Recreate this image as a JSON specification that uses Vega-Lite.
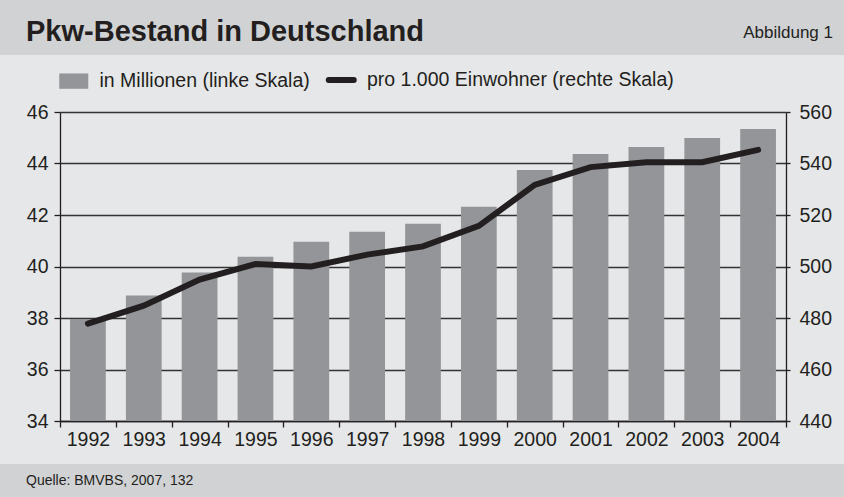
{
  "$schema": "https://vega.github.io/schema/vega-lite/v6.json",
  "padding": 0,
  "background": "#e6e7e8",
  "spacing": 15,
  "resolve": {"scale": {"color": "independent"}, "legend": {"color": "independent"}},
  "config": {
    "view": {"stroke": null},
    "font": "Liberation Sans",
    "text": {"color": "#231f20"}
  },
  "datasets": {
    "pkw": [
      {"Jahr": "1992", "Mio": 37.96, "Einw": 477.8},
      {"Jahr": "1993", "Mio": 38.87, "Einw": 484.8},
      {"Jahr": "1994", "Mio": 39.77, "Einw": 494.9},
      {"Jahr": "1995", "Mio": 40.38, "Einw": 501.0},
      {"Jahr": "1996", "Mio": 40.96, "Einw": 500.0},
      {"Jahr": "1997", "Mio": 41.35, "Einw": 504.6},
      {"Jahr": "1998", "Mio": 41.66, "Einw": 507.8},
      {"Jahr": "1999", "Mio": 42.32, "Einw": 515.8},
      {"Jahr": "2000", "Mio": 43.75, "Einw": 531.7},
      {"Jahr": "2001", "Mio": 44.37, "Einw": 538.6},
      {"Jahr": "2002", "Mio": 44.64, "Einw": 540.5},
      {"Jahr": "2003", "Mio": 44.99, "Einw": 540.5},
      {"Jahr": "2004", "Mio": 45.34, "Einw": 545.3}
    ]
  },
  "vconcat": [
    {
      "width": 844,
      "height": 55,
      "view": {"fill": "#d1d2d4", "stroke": null},
      "layer": [
        {
          "data": {"values": [{"t": "Pkw-Bestand in Deutschland"}]},
          "mark": {"type": "text", "x": 26, "y": 40.5, "align": "left", "baseline": "alphabetic", "font": "Liberation Sans", "fontWeight": "bold", "fontSize": 29, "color": "#231f20"},
          "encoding": {"text": {"field": "t"}}
        },
        {
          "data": {"values": [{"t": "Abbildung 1"}]},
          "mark": {"type": "text", "x": 833, "y": 37.5, "align": "right", "baseline": "alphabetic", "fontSize": 17, "color": "#231f20"},
          "encoding": {"text": {"field": "t"}}
        }
      ]
    },
    {
      "width": 844,
      "height": 309,
      "data": {"name": "pkw"},
      "encoding": {
        "x": {
          "field": "Jahr",
          "type": "ordinal",
          "scale": {"paddingInner": 0, "paddingOuter": 0, "range": [60, 786]},
          "axis": {
            "title": null,
            "orient": "bottom",
            "tickBand": "extent",
            "grid": false,
            "labelAngle": 0,
            "tickSize": 6,
            "tickWidth": 1.3,
            "tickColor": "#231f20",
            "domainColor": "#231f20",
            "domainWidth": 1.3,
            "labelPadding": 3,
            "labelFontSize": 19.5,
            "labelColor": "#231f20",
            "labelFont": "Liberation Sans"
          }
        }
      },
      "layer": [
        {
          "mark": {"type": "bar", "width": {"band": 0.64}},
          "encoding": {
            "y": {
              "field": "Mio",
              "type": "quantitative",
              "scale": {"domain": [34, 46], "nice": false, "zero": false},
              "axis": {
                "orient": "left",
                "offset": -60,
                "title": null,
                "values": [34, 36, 38, 40, 42, 44, 46],
                "grid": true,
                "gridColor": "#333333",
                "gridWidth": 1.3,
                "domainColor": "#231f20",
                "domainWidth": 1.3,
                "tickColor": "#231f20",
                "tickWidth": 1.3,
                "tickSize": 6,
                "labelPadding": 6,
                "labelFontSize": 19.5,
                "labelColor": "#231f20",
                "labelFont": "Liberation Sans"
              }
            },
            "y2": {"datum": 34},
            "color": {
              "datum": "in Millionen (linke Skala)",
              "type": "nominal",
              "scale": {
                "domain": ["in Millionen (linke Skala)", "pro 1.000 Einwohner (rechte Skala)"],
                "range": ["#939598", "#231f20"]
              },
              "legend": {
                "title": null,
                "orient": "none",
                "legendX": 60,
                "legendY": -42,
                "direction": "horizontal",
                "padding": 0,
                "symbolSize": 576,
                "symbolStrokeWidth": 0,
                "symbolOffset": 4,
                "labelOffset": 16,
                "labelLimit": 500,
                "columnPadding": 6.5,
                "labelFontSize": 19.5,
                "labelColor": "#231f20",
                "labelFont": "Liberation Sans",
                "encode": {
                  "symbols": {
                    "update": {
                      "shape": {"signal": "datum.value === 'in Millionen (linke Skala)' ? 'M-1.21,-0.64L1.21,-0.64L1.21,0.64L-1.21,0.64Z' : 'M-1.04,0L1.04,0'"},
                      "fill": {"signal": "datum.value === 'in Millionen (linke Skala)' ? '#939598' : 'transparent'"},
                      "stroke": {"signal": "datum.value === 'in Millionen (linke Skala)' ? 'transparent' : '#231f20'"},
                      "strokeWidth": {"signal": "datum.value === 'in Millionen (linke Skala)' ? 0 : 6"},
                      "strokeCap": {"value": "round"},
                      "opacity": {"value": 1}
                    }
                  }
                }
              }
            }
          }
        },
        {
          "mark": {"type": "line", "strokeWidth": 6, "strokeCap": "round", "strokeJoin": "miter"},
          "encoding": {
            "y": {
              "field": "Einw",
              "type": "quantitative",
              "scale": {"domain": [440, 560], "nice": false, "zero": false},
              "axis": {
                "orient": "right",
                "offset": -58,
                "title": null,
                "values": [440, 460, 480, 500, 520, 540, 560],
                "grid": false,
                "domainColor": "#231f20",
                "domainWidth": 1.3,
                "tickColor": "#231f20",
                "tickWidth": 1.3,
                "tickSize": 4,
                "labelPadding": 9,
                "labelFontSize": 19.5,
                "labelColor": "#231f20",
                "labelFont": "Liberation Sans"
              }
            },
            "color": {"datum": "pro 1.000 Einwohner (rechte Skala)", "type": "nominal"}
          }
        }
      ],
      "resolve": {"scale": {"y": "independent"}}
    },
    {
      "width": 844,
      "height": 33,
      "view": {"fill": "#d1d2d4", "stroke": null},
      "data": {"values": [{"t": "Quelle: BMVBS, 2007, 132"}]},
      "mark": {"type": "text", "x": 26, "y": 16.5, "align": "left", "baseline": "middle", "fontSize": 14, "color": "#231f20"},
      "encoding": {"text": {"field": "t"}}
    }
  ]
}
